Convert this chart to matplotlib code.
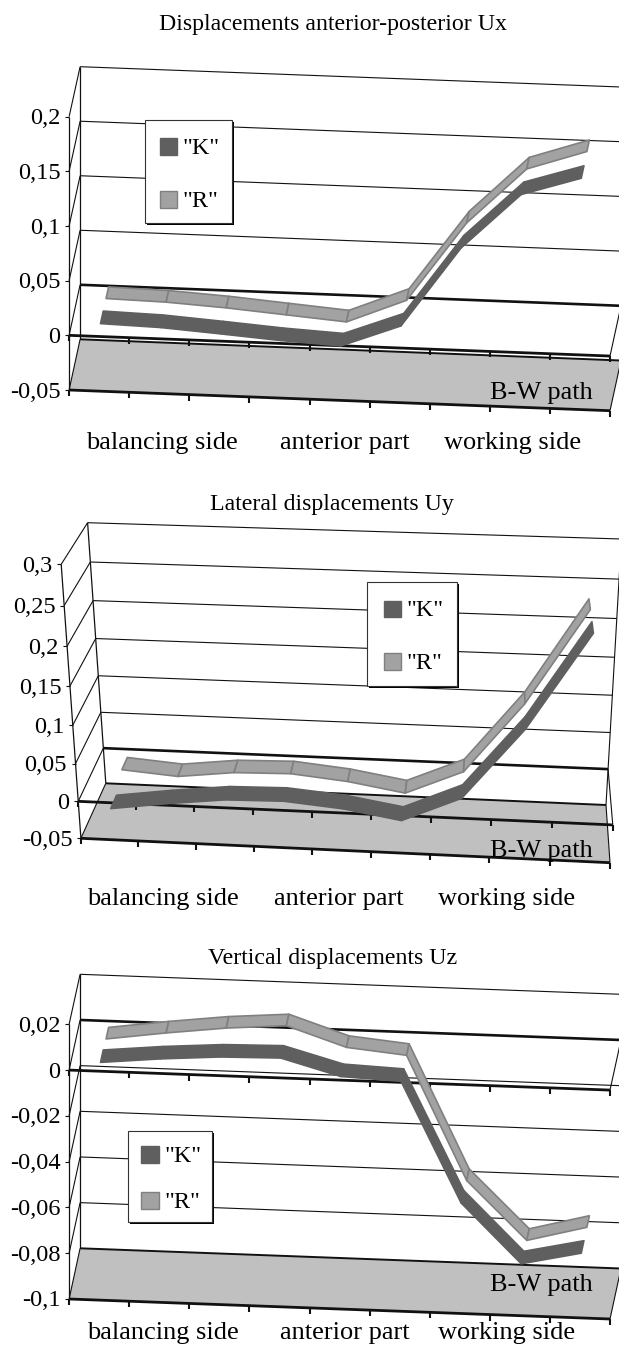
import numpy as np
import matplotlib
matplotlib.use("Agg")
import matplotlib.pyplot as plt
from matplotlib.patches import Polygon, Rectangle

plt.rcParams['font.family'] = ['Liberation Serif', 'DejaVu Serif']

# ---------- data ----------
series_names = ['"K"', '"R"']
category_labels = ["balancing side", "anterior part", "working side"]

ux_ticks = [-0.05, 0, 0.05, 0.1, 0.15, 0.2]
ux_tick_labels = ["-0,05", "0", "0,05", "0,1", "0,15", "0,2"]
ux_k = [0.0062, 0.0047, 0.0010, -0.0030, -0.0058, 0.0146, 0.0880, 0.1390, 0.1560]
ux_r = [0.0056, 0.0044, 0.0013, -0.0030, -0.0073, 0.0146, 0.0875, 0.1390, 0.1570]

uy_ticks = [-0.05, 0, 0.05, 0.1, 0.15, 0.2, 0.25, 0.3]
uy_tick_labels = ["-0,05", "0", "0,05", "0,1", "0,15", "0,2", "0,25", "0,3"]
uy_k = [-0.0168, -0.0066, 0.0018, 0.0034, -0.0032, -0.0155, 0.0176, 0.1100, 0.2320]
uy_r = [-0.0010, -0.0070, 0.0016, 0.0034, -0.0040, -0.0165, 0.0160, 0.1095, 0.2320]

uz_ticks = [-0.1, -0.08, -0.06, -0.04, -0.02, 0, 0.02]
uz_tick_labels = ["-0,1", "-0,08", "-0,06", "-0,04", "-0,02", "0", "0,02"]
uz_k = [0.0012, 0.0037, 0.0055, 0.0060, -0.0011, -0.0022, -0.0544, -0.0800, -0.0744]
uz_r = [0.0003, 0.0039, 0.0070, 0.0090, 0.0005, -0.0020, -0.0558, -0.0810, -0.0743]

N_CAT = 9
DARK, DARK_EDGE = "#5f5f5f", "#5f5f5f"
LIGHT, LIGHT_EDGE = "#a2a2a2", "#808080"
FLOOR = "#c0c0c0"
LINE = "#111111"

panels = [
    dict(title="Displacements anterior-posterior Ux", title_xy=(333, 24.5),
         ticks=ux_ticks, labels=ux_tick_labels, k=ux_k, r=ux_r,
         corners=dict(flb=(69.1, 390), flt=(69.1, 116.7), blb=(80.1, 339.3), blt=(80.1, 66.7),
                      frb=(610, 410.7), frt=(610, 137.4), brb=(621, 360.5), brt=(621, 87)),
         warp_v=0.0, warp_c=0.0,
         cat_xy=[(162, 443), (345, 443), (513, 443)], bw_xy=(541, 393),
         legend=(144.5, 120, 232, 222.7), sw_x=160, sw_w=17, sw_y=[138, 191], sw_h=17),
    dict(title="Lateral displacements Uy", title_xy=(332, 504.5),
         ticks=uy_ticks, labels=uy_tick_labels, k=uy_k, r=uy_r,
         corners=dict(flb=(80.9, 838.3), flt=(61.2, 564.3), blb=(105.8, 783.3), blt=(87.6, 522.7),
                      frb=(610, 862.7), frt=(630.5, 582.7), brb=(606, 805), brt=(621.4, 539)),
         warp_v=0.065, warp_c=0.032,
         cat_xy=[(163, 899), (339, 899), (506.5, 899)], bw_xy=(541, 851),
         legend=(367, 581.7, 457, 685.7), sw_x=384, sw_w=17, sw_y=[600.7, 653], sw_h=16.5),
    dict(title="Vertical displacements Uz", title_xy=(333, 958.5),
         ticks=uz_ticks, labels=uz_tick_labels, k=uz_k, r=uz_r,
         corners=dict(flb=(69.1, 1299), flt=(69.1, 1024.3), blb=(80.1, 1248.3), blt=(80.1, 974.3),
                      frb=(610, 1319), frt=(610, 1044.3), brb=(621, 1268.5), brt=(621, 994.3)),
         warp_v=0.0, warp_c=0.0,
         cat_xy=[(163, 1333), (345, 1333), (506.5, 1333)], bw_xy=(541, 1285),
         legend=(128, 1130.7, 212, 1221.7), sw_x=141, sw_w=18, sw_y=[1146, 1192], sw_h=16.5),
]

fig = plt.figure(figsize=(6.19, 13.45), dpi=100)
ax = fig.add_axes([0, 0, 1, 1])
ax.set_xlim(0, 619)
ax.set_ylim(1345, 0)
ax.axis("off")


def make_projection(p):
    vmin, vmax = p["ticks"][0], p["ticks"][-1]
    cn = p["corners"]
    fl_b, fl_t = np.array(cn["flb"]), np.array(cn["flt"])
    bl_b, bl_t = np.array(cn["blb"]), np.array(cn["blt"])
    fr_b, fr_t = np.array(cn["frb"]), np.array(cn["frt"])
    br_b, br_t = np.array(cn["brb"]), np.array(cn["brt"])

    def proj(c, v, d):
        u = c / N_CAT
        u = u * (1 - p["warp_c"] * (1 - u))
        w = (v - vmin) / (vmax - vmin)
        w = w * (1 - p["warp_v"] * (1 - w))
        front_l = fl_b + (fl_t - fl_b) * w
        front_r = fr_b + (fr_t - fr_b) * w
        back_l = bl_b + (bl_t - bl_b) * w
        back_r = br_b + (br_t - br_b) * w
        front = front_l + (front_r - front_l) * u
        back = back_l + (back_r - back_l) * u
        return front + (back - front) * d
    return proj


def seg(a, b, lw=0.8, color=LINE, z=2):
    ax.plot([a[0], b[0]], [a[1], b[1]], color=color, lw=lw, zorder=z, solid_capstyle="butt")


def ribbon(proj, values, d0, d1, face, edge, lw, z):
    for i in range(len(values) - 1):
        pts = [proj(i + 0.5, values[i], d0), proj(i + 1.5, values[i + 1], d0),
               proj(i + 1.5, values[i + 1], d1), proj(i + 0.5, values[i], d1)]
        ax.add_patch(Polygon(pts, closed=True, facecolor=face, edgecolor=edge, lw=lw,
                             joinstyle="round", zorder=z))


for p in panels:
    proj = make_projection(p)
    vmin, vmax = p["ticks"][0], p["ticks"][-1]

    ax.text(*p["title_xy"], p["title"], ha="center", va="center", fontsize=17.2, zorder=10)

    # floor
    ax.add_patch(Polygon([proj(0, vmin, 0), proj(N_CAT, vmin, 0), proj(N_CAT, vmin, 1), proj(0, vmin, 1)],
                         closed=True, facecolor=FLOOR, edgecolor="none", zorder=1))

    # walls, grid and value ticks
    for v, lab in zip(p["ticks"], p["labels"]):
        back_lw = 1.9 if v == 0 else (1.4 if v == vmin else 0.8)
        seg(proj(0, v, 1), proj(N_CAT, v, 1), lw=back_lw, z=2)
        seg(proj(0, v, 0), proj(0, v, 1), lw=0.8, z=2)
        f = proj(0, v, 0)
        seg((f[0] - 4, f[1]), f, lw=0.8, z=2)
        ax.text(f[0] - 8.5, f[1] + 2, lab, ha="right", va="center", fontsize=17.6, zorder=10)
    seg(proj(0, vmin, 0), proj(0, vmax, 0), lw=0.9)
    seg(proj(0, vmin, 1), proj(0, vmax, 1), lw=0.9)
    seg(proj(N_CAT, vmin, 1), proj(N_CAT, vmax, 1), lw=0.8)
    seg(proj(N_CAT, vmin, 0), proj(N_CAT, vmin, 1), lw=0.8)
    seg(proj(N_CAT, 0, 0), proj(N_CAT, 0, 1), lw=0.8)

    # front axes with category ticks
    for v in (vmin, 0):
        seg(proj(0, v, 0), proj(N_CAT, v, 0), lw=2.0, z=3)
        for c in range(N_CAT + 1):
            f = proj(c, v, 0)
            seg(f, (f[0], f[1] + 6), lw=1.5, z=3)

    # series ribbons
    ribbon(proj, p["r"], 0.63, 0.86, LIGHT, LIGHT_EDGE, 1.2, 5)
    ribbon(proj, p["k"], 0.12, 0.37, DARK, DARK_EDGE, 1.1, 6)

    for (x, y), lab in zip(p["cat_xy"], category_labels):
        ax.text(x, y, lab, ha="center", va="center", fontsize=19, zorder=10)
    ax.text(*p["bw_xy"], "B-W path", ha="center", va="center", fontsize=19, zorder=10)

    # legend
    x0, y0, x1, y1 = p["legend"]
    ax.add_patch(Rectangle((x0 + 2, y0 + 2), x1 - x0, y1 - y0, facecolor="black", edgecolor="none", zorder=7))
    ax.add_patch(Rectangle((x0, y0), x1 - x0, y1 - y0, facecolor="white", edgecolor="#333333", lw=0.8, zorder=8))
    for yy, name, fc, ec in zip(p["sw_y"], series_names, (DARK, LIGHT), (DARK_EDGE, LIGHT_EDGE)):
        ax.add_patch(Rectangle((p["sw_x"], yy), p["sw_w"], p["sw_h"], facecolor=fc, edgecolor=ec, lw=1.0, zorder=9))
        ax.text(p["sw_x"] + p["sw_w"] + 5, yy + p["sw_h"] / 2 + 2, name, ha="left", va="center",
                fontsize=17.4, zorder=10)

fig.savefig("out.png", dpi=100)
